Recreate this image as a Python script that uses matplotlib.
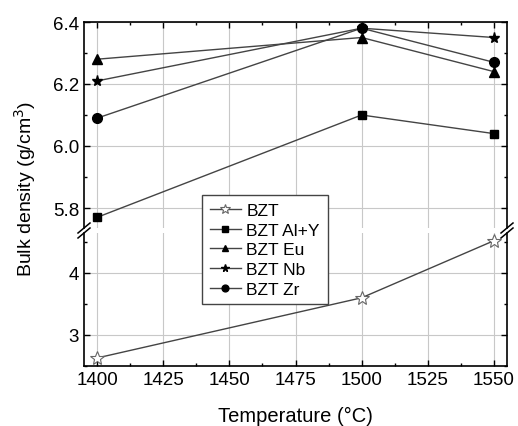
import matplotlib
matplotlib.use("Agg")
import matplotlib.pyplot as plt
from matplotlib.ticker import MultipleLocator
from matplotlib.lines import Line2D

plt.rcParams['font.family'] = ['Liberation Sans', 'DejaVu Sans']

# data
temps = [1400, 1500, 1550]
bzt = [2.63, 3.60, 4.52]
bzt_aly = [5.77, 6.10, 6.04]
bzt_eu = [6.28, 6.35, 6.24]
bzt_nb = [6.21, 6.38, 6.35]
bzt_zr = [6.09, 6.38, 6.27]

W, H = 518, 427
fig = plt.figure(figsize=(W / 100, H / 100), dpi=100)

left, right = 84 / W, 507 / W
top_px, brk_top_px, brk_bot_px, bot_px = 23, 229, 234, 367
ax_top = fig.add_axes([left, 1 - brk_top_px / H, right - left, (brk_top_px - top_px) / H])
ax_bot = fig.add_axes([left, 1 - bot_px / H, right - left, (bot_px - brk_bot_px) / H])

line_col = '#444444'
ax_top.plot(temps, bzt_aly, color=line_col, lw=1, marker='s', ms=6, mfc='black', mec='black', label='BZT Al+Y')
ax_top.plot(temps, bzt_eu, color=line_col, lw=1, marker='^', ms=7, mfc='black', mec='black', label='BZT Eu')
ax_top.plot(temps, bzt_nb, color=line_col, lw=1, marker='*', ms=8, mfc='black', mec='black', label='BZT Nb')
ax_top.plot(temps, bzt_zr, color=line_col, lw=1, marker='o', ms=7, mfc='black', mec='black', label='BZT Zr')
ax_bot.plot(temps, bzt, color=line_col, lw=1, marker='*', ms=10, mfc='white', mec='#666666', mew=0.8, label='BZT')

ax_top.set_ylim(6.4 - (brk_top_px - top_px) / 310, 6.4)
ax_bot.set_ylim(2.5, 2.5 + (bot_px - brk_bot_px) / 62)
for ax in (ax_top, ax_bot):
    ax.set_xlim(1395, 1555)
    ax.xaxis.set_major_locator(MultipleLocator(25))
    ax.xaxis.set_minor_locator(MultipleLocator(12.5))
    ax.grid(True, which='major', color='#c8c8c8', lw=0.8)
    ax.set_axisbelow(True)
    ax.tick_params(which='both', direction='in', top=True, right=True, labelsize=13.5, width=1)
    ax.tick_params(which='major', length=4)
    ax.tick_params(which='minor', length=2)
    for s in ax.spines.values():
        s.set_linewidth(1.2)

ax_top.yaxis.set_major_locator(MultipleLocator(0.2))
ax_top.yaxis.set_minor_locator(MultipleLocator(0.1))
ax_top.yaxis.set_major_formatter(matplotlib.ticker.FormatStrFormatter('%.1f'))
ax_top.spines['bottom'].set_visible(False)
ax_top.tick_params(which='both', bottom=False, labelbottom=False)

ax_bot.yaxis.set_major_locator(MultipleLocator(1))
ax_bot.yaxis.set_minor_locator(MultipleLocator(0.5))
ax_bot.spines['top'].set_visible(False)
ax_bot.tick_params(which='both', top=False)

# break marks on both spines
for xx in (left, right):
    for yy in (brk_top_px, brk_bot_px):
        x0, y0 = xx * W - 6, H - yy - 5
        fig.add_artist(Line2D([x0 / W, (x0 + 12) / W], [y0 / H, (y0 + 10) / H],
                              color='black', lw=1.1))

fig.text(25 / W, 1 - 189 / H, 'Bulk density (g/cm$^3$)', rotation=90,
         ha='center', va='center', fontsize=14)
fig.text((left + right) / 2, 1 - 416 / H, 'Temperature (°C)', ha='center', va='center', fontsize=14.5)

handles = ax_bot.get_lines() + ax_top.get_lines()
leg = fig.legend(handles=handles, labels=[h.get_label() for h in handles],
                 loc='upper left', bbox_to_anchor=(202 / W, 1 - 196 / H), borderaxespad=0,
                 fontsize=12.5, fancybox=False, framealpha=1, edgecolor='#444444',
                 handlelength=1.8, handletextpad=0.3, labelspacing=0.26, borderpad=0.45,
                 markerscale=0.7)
leg.get_frame().set_linewidth(1)

fig.savefig('out.png', dpi=100)
